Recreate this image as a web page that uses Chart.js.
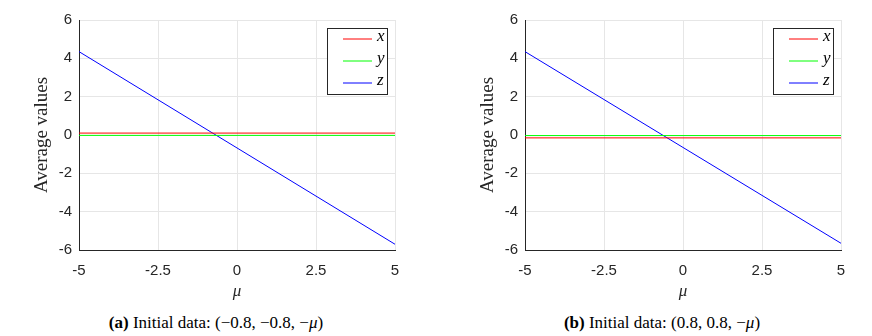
<!DOCTYPE html>
<html lang="en">
<head>
<meta charset="UTF-8">
<title>Average values</title>
<script src="https://cdn.jsdelivr.net/npm/chart.js"></script>
<style>
  body { margin: 0; background: #fff; width: 872px; height: 336px; position: relative; overflow: hidden; }
  canvas { position: absolute; top: 0; }
  #c1 { left: 0; }
  #c2 { left: 446px; }
  .cap { position: absolute; top: 313px; font-family: "Liberation Serif", serif; font-size: 17px; line-height: 20px; color: #000; white-space: nowrap; transform: translateX(-50%); }
</style>
</head>
<body>
<canvas id="c1" width="420" height="300"></canvas>
<canvas id="c2" width="420" height="300"></canvas>
<div class="cap" style="left:216px"><b>(a)</b> Initial data: (−0.8, −0.8, −<i>μ</i>)</div>
<div class="cap" style="left:662px"><b>(b)</b> Initial data: (0.8, 0.8, −<i>μ</i>)</div>
<script>
// values
const mu = [-5, 5]
const xTicks = [-5, -2.5, 0, 2.5, 5]
const yTicks = [-6, -4, -2, 0, 2, 4, 6]
const seriesNames = ['x', 'y', 'z']
const seriesColors = ['#ff0000', '#00ff00', '#0000ff']

const xA = [0.1, 0.1]
const yA = [-0.02, -0.02]
const zA = [4.35, -5.7]

const xB = [-0.15, -0.15]
const yB = [-0.03, -0.03]
const zB = [4.35, -5.65]

const axisColor = '#262626'
const gridColor = '#e6e6e6'

const legendBox = {
  id: 'legendBox',
  afterDatasetsDraw(chart) {
    const ctx = chart.ctx
    const a = chart.chartArea
    const bx = a.right - 68, by = a.top + 7.5, bw = 60, bh = 66
    ctx.save()
    ctx.fillStyle = '#fff'
    ctx.fillRect(bx, by, bw, bh)
    ctx.strokeStyle = axisColor
    ctx.lineWidth = 1
    ctx.strokeRect(Math.round(bx) + 0.5, Math.round(by) + 0.5, bw, bh)
    chart.data.datasets.forEach((ds, i) => {
      const yy = by + 11.5 + i * 22
      ctx.strokeStyle = ds.borderColor
      ctx.beginPath()
      ctx.moveTo(bx + 16, yy)
      ctx.lineTo(bx + 45, yy)
      ctx.stroke()
      ctx.fillStyle = '#000'
      ctx.font = 'italic 17px "Liberation Serif"'
      ctx.textBaseline = 'middle'
      ctx.fillText(ds.label, bx + 50, yy - 2)
    })
    ctx.restore()
  }
}

function pontos(vals) {
  return mu.map((m, i) => ({x: m, y: vals[i]}))
}

function grafico(id, series) {
  return new Chart(document.getElementById(id), {
    type: 'line',
    data: {
      datasets: series.map((s, i) => ({
        label: seriesNames[i],
        data: pontos(s),
        borderColor: seriesColors[i],
        borderWidth: 1,
        pointRadius: 0,
        tension: 0
      }))
    },
    options: {
      responsive: false,
      animation: false,
      layout: { padding: { left: 0, right: 25, top: 20, bottom: 0 } },
      plugins: { legend: { display: false }, tooltip: { enabled: false } },
      scales: {
        x: {
          type: 'linear',
          min: -5, max: 5,
          afterBuildTicks: s => { s.ticks = xTicks.map(v => ({value: v})) },
          afterFit: s => { s.height = 50 },
          grid: { color: gridColor, drawTicks: false },
          border: { color: axisColor, width: 1 },
          ticks: {
            color: axisColor, padding: 12,
            font: { family: '"Liberation Sans"', size: 15 },
            maxRotation: 0,
            callback: v => String(v)
          },
          title: {
            display: true, text: 'μ', color: axisColor,
            font: { family: '"Liberation Serif"', size: 17, style: 'italic', lineHeight: 1 },
            padding: { top: 0, bottom: 0 }
          }
        },
        y: {
          min: -6, max: 6,
          afterBuildTicks: s => { s.ticks = yTicks.map(v => ({value: v})) },
          afterFit: s => { s.width = 79 },
          grid: { color: gridColor, drawTicks: false },
          border: { color: axisColor, width: 1 },
          ticks: {
            color: axisColor, padding: 7,
            font: { family: '"Liberation Sans"', size: 15 },
            callback: v => String(v)
          },
          title: {
            display: true, text: 'Average values', color: axisColor,
            font: { family: '"Liberation Serif"', size: 19, lineHeight: 1.2 },
            padding: { top: 31, bottom: 0 }
          }
        }
      }
    },
    plugins: [legendBox]
  })
}

grafico('c1', [xA, yA, zA])
grafico('c2', [xB, yB, zB])
</script>
</body>
</html>
